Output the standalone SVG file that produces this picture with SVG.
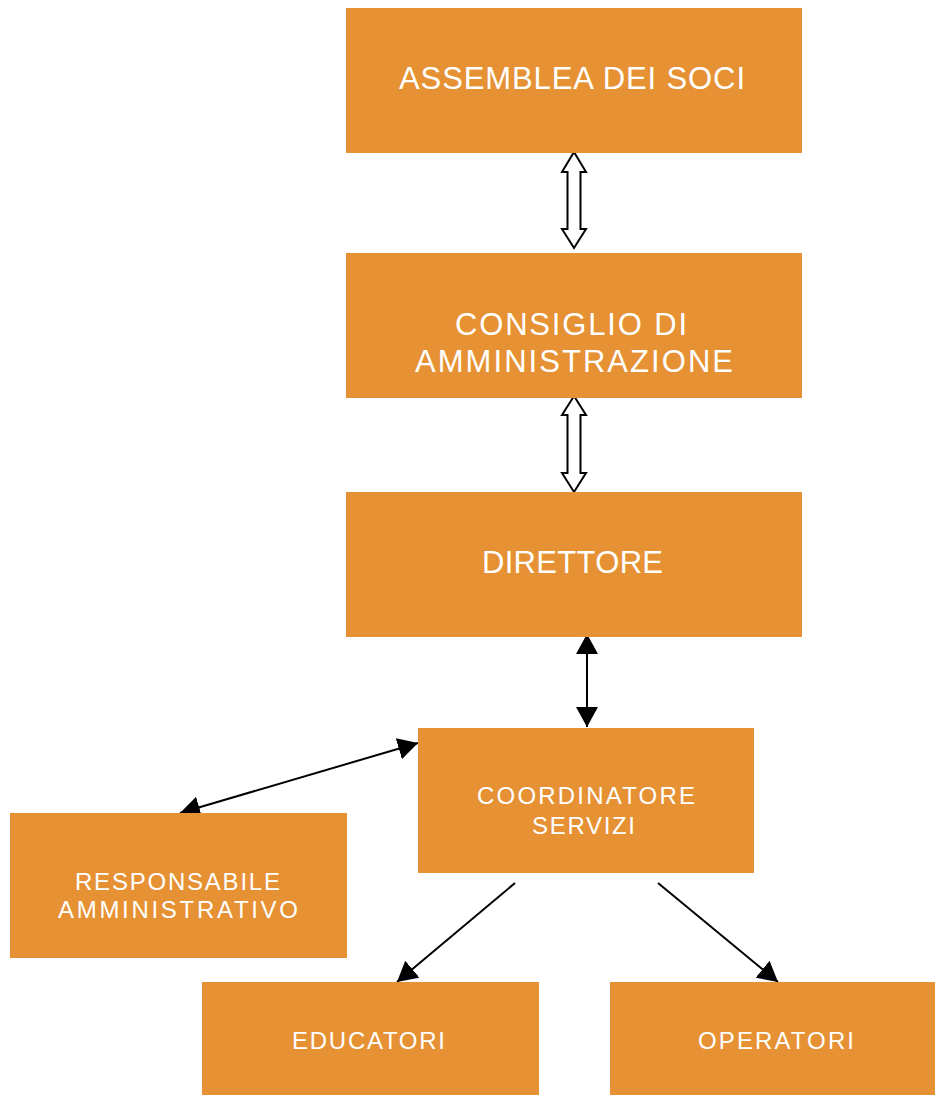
<svg xmlns="http://www.w3.org/2000/svg" width="935" height="1095" viewBox="0 0 935 1095">
<style>
.box{fill:#E69133;}
.t{fill:#FFFFFF;font-family:"Liberation Sans",Arial,sans-serif;}
.big{font-size:31px;}
.small{font-size:24px;}
.hollow{fill:#FFFFFF;stroke:#000000;stroke-width:2;stroke-linejoin:miter;}
.line{stroke:#000000;stroke-width:2;fill:none;}
</style>
<defs>
<marker id="ah" viewBox="0 0 20 22" markerWidth="20" markerHeight="22" refX="20" refY="11" orient="auto-start-reverse" markerUnits="userSpaceOnUse">
<path d="M0,0 L20,11 L0,22 z" fill="#000000"/>
</marker>
</defs>
<rect width="935" height="1095" fill="#FFFFFF"/>
<g id="connectors">
<polygon class="hollow" points="574,152 586,172 580.5,172 580.5,229 586,229 574,248 562,229 567.5,229 567.5,172 562,172"/>
<polygon class="hollow" points="574,396 586,415 580.5,415 580.5,473 586,473 574,492 562,473 567.5,473 567.5,415 562,415"/>
<line class="line" x1="587" y1="634" x2="587" y2="727" marker-start="url(#ah)" marker-end="url(#ah)"/>
<line class="line" x1="418" y1="743" x2="180" y2="813" marker-start="url(#ah)" marker-end="url(#ah)"/>
<line class="line" x1="515" y1="883" x2="397" y2="982" marker-end="url(#ah)"/>
<line class="line" x1="658" y1="883" x2="778" y2="982" marker-end="url(#ah)"/>
</g>
<g id="assemblea">
<rect class="box" x="346" y="8" width="456" height="145"/>
<text class="t big" x="399" y="89" textLength="346" lengthAdjust="spacing">ASSEMBLEA DEI SOCI</text>
</g>
<g id="consiglio">
<rect class="box" x="346" y="253" width="456" height="145"/>
<text class="t big" x="455" y="335" textLength="232" lengthAdjust="spacing">CONSIGLIO DI</text>
<text class="t big" x="415" y="372" textLength="318" lengthAdjust="spacing">AMMINISTRAZIONE</text>
</g>
<g id="direttore">
<rect class="box" x="346" y="492" width="456" height="145"/>
<text class="t big" x="482" y="573" textLength="181" lengthAdjust="spacing">DIRETTORE</text>
</g>
<g id="coordinatore">
<rect class="box" x="418" y="728" width="336" height="145"/>
<text class="t small" x="477" y="804" textLength="218" lengthAdjust="spacing">COORDINATORE</text>
<text class="t small" x="532" y="834" textLength="103" lengthAdjust="spacing">SERVIZI</text>
</g>
<g id="responsabile">
<rect class="box" x="10" y="813" width="337" height="145"/>
<text class="t small" x="75" y="890" textLength="205" lengthAdjust="spacing">RESPONSABILE</text>
<text class="t small" x="58" y="918" textLength="240" lengthAdjust="spacing">AMMINISTRATIVO</text>
</g>
<g id="educatori">
<rect class="box" x="202" y="982" width="337" height="113"/>
<text class="t small" x="292" y="1049" textLength="153" lengthAdjust="spacing">EDUCATORI</text>
</g>
<g id="operatori">
<rect class="box" x="610" y="982" width="325" height="113"/>
<text class="t small" x="698" y="1049" textLength="156" lengthAdjust="spacing">OPERATORI</text>
</g>
</svg>
